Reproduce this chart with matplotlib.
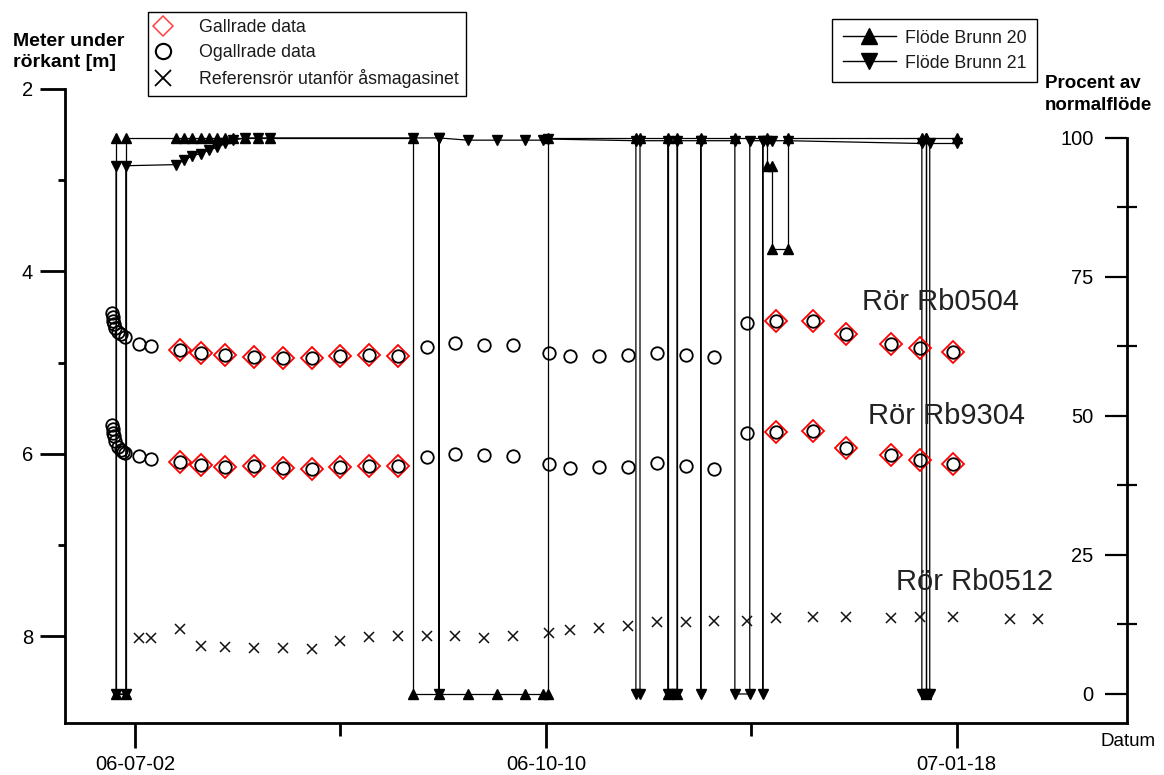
import numpy as np
import pandas as pd
import matplotlib
matplotlib.use('Agg')
import matplotlib.pyplot as plt
import matplotlib.dates as mdates
from matplotlib.lines import Line2D

plt.rcParams['font.family'] = ['Liberation Sans', 'DejaVu Sans']

# ---------------- data ----------------
# Groundwater level, pipe Rb0504 (m below pipe top), all data (circles)
rb0504_dates = ['2006-06-26 12:00', '2006-06-26 14:00', '2006-06-26 16:00', '2006-06-26 20:00',
                '2006-06-27 06:00', '2006-06-27 20:00', '2006-06-28 14:00', '2006-06-29 12:00',
                '2006-07-03', '2006-07-06',
                '2006-07-13', '2006-07-18', '2006-07-24', '2006-07-31', '2006-08-07', '2006-08-14',
                '2006-08-21', '2006-08-28', '2006-09-04',
                '2006-09-11', '2006-09-18', '2006-09-25', '2006-10-02', '2006-10-10 18:00',
                '2006-10-16', '2006-10-23', '2006-10-30', '2006-11-06', '2006-11-13', '2006-11-20',
                '2006-11-28', '2006-12-05', '2006-12-14', '2006-12-22', '2007-01-02', '2007-01-09',
                '2007-01-17']
rb0504_level = [4.46, 4.50, 4.54, 4.58, 4.62, 4.66, 4.69, 4.72, 4.80, 4.82,
                4.86, 4.90, 4.92, 4.94, 4.95, 4.95, 4.93, 4.92, 4.93,
                4.83, 4.79, 4.81, 4.81, 4.90, 4.93, 4.93, 4.92, 4.90, 4.92, 4.94,
                4.57, 4.55, 4.55, 4.69, 4.80, 4.84, 4.89]

# Groundwater level, pipe Rb9304
rb9304_dates = ['2006-06-26 12:00', '2006-06-26 14:00', '2006-06-26 16:00', '2006-06-26 20:00',
                '2006-06-27 06:00', '2006-06-27 20:00', '2006-06-28 14:00', '2006-06-29 00:00',
                '2006-06-29 12:00', '2006-07-03', '2006-07-06',
                '2006-07-13', '2006-07-18', '2006-07-24', '2006-07-31', '2006-08-07', '2006-08-14',
                '2006-08-21', '2006-08-28', '2006-09-04',
                '2006-09-11', '2006-09-18', '2006-09-25', '2006-10-02', '2006-10-10 18:00',
                '2006-10-16', '2006-10-23', '2006-10-30', '2006-11-06', '2006-11-13', '2006-11-20',
                '2006-11-28', '2006-12-05', '2006-12-14', '2006-12-22', '2007-01-02', '2007-01-09',
                '2007-01-17']
rb9304_level = [5.69, 5.73, 5.77, 5.81, 5.86, 5.93, 5.96, 5.98, 5.99, 6.03, 6.06,
                6.09, 6.12, 6.15, 6.14, 6.16, 6.17, 6.15, 6.14, 6.14,
                6.04, 6.00, 6.01, 6.02, 6.11, 6.16, 6.15, 6.15, 6.10, 6.14, 6.17,
                5.77, 5.76, 5.75, 5.94, 6.01, 6.07, 6.11]

# Filtered ("gallrade") measurements (same dates/values in both pipes)
gallrade_dates = ['2006-07-13', '2006-07-18', '2006-07-24', '2006-07-31', '2006-08-07',
                  '2006-08-14', '2006-08-21', '2006-08-28', '2006-09-04',
                  '2006-12-05', '2006-12-14', '2006-12-22', '2007-01-02', '2007-01-09', '2007-01-17']
gallrade_rb0504 = [4.86, 4.90, 4.92, 4.94, 4.95, 4.95, 4.93, 4.92, 4.93,
                   4.55, 4.55, 4.69, 4.80, 4.84, 4.89]
gallrade_rb9304 = [6.09, 6.12, 6.15, 6.14, 6.16, 6.17, 6.15, 6.14, 6.14,
                   5.76, 5.75, 5.94, 6.01, 6.07, 6.11]

# Reference pipe outside the esker aquifer, Rb0512
rb0512_dates = ['2006-07-03', '2006-07-06', '2006-07-13', '2006-07-18', '2006-07-24', '2006-07-31',
                '2006-08-07', '2006-08-14', '2006-08-21', '2006-08-28', '2006-09-04', '2006-09-11',
                '2006-09-18', '2006-09-25', '2006-10-02', '2006-10-10 18:00', '2006-10-16',
                '2006-10-23', '2006-10-30', '2006-11-06', '2006-11-13', '2006-11-20', '2006-11-28',
                '2006-12-05', '2006-12-14', '2006-12-22', '2007-01-02', '2007-01-09', '2007-01-17',
                '2007-01-31', '2007-02-06 18:00']
rb0512_level = [8.02, 8.02, 7.92, 8.11, 8.12, 8.13, 8.13, 8.14, 8.06, 8.01, 8.00, 8.00,
                8.00, 8.02, 8.00, 7.97, 7.93, 7.91, 7.89, 7.85, 7.85, 7.83, 7.83,
                7.80, 7.79, 7.79, 7.80, 7.79, 7.79, 7.81, 7.81]

# Flow, well 20 (% of normal flow)
brunn20_dates = ['2006-06-27 10:00', '2006-06-27 10:00', '2006-06-29 19:00', '2006-06-29 19:00',
                 '2006-07-12', '2006-07-14', '2006-07-16', '2006-07-18', '2006-07-20', '2006-07-22',
                 '2006-07-24', '2006-07-26', '2006-07-28 20:00', '2006-07-31 22:00', '2006-08-03 20:00',
                 '2006-09-07 16:00', '2006-09-07 16:00', '2006-09-14', '2006-09-21', '2006-09-28',
                 '2006-10-05', '2006-10-09 08:00', '2006-10-10 12:00', '2006-10-10 12:00',
                 '2006-10-31 22:00', '2006-11-01 22:00', '2006-11-08 16:00', '2006-11-08 16:00',
                 '2006-11-10 22:00', '2006-11-10 22:00', '2006-11-16 17:00', '2006-11-25',
                 '2006-12-02 19:00', '2006-12-02 19:00', '2006-12-04', '2006-12-04',
                 '2006-12-07 21:00', '2006-12-07 21:00', '2007-01-09 12:00',
                 '2007-01-10 12:00', '2007-01-10 12:00', '2007-01-10 12:00', '2007-01-18']
brunn20_flow = [100, 0, 0, 100,
                100, 100, 100, 100, 100, 100,
                100, 100, 100, 100, 100,
                100, 0, 0, 0, 0,
                0, 0, 0, 100,
                100, 100, 100, 0,
                0, 100, 100, 100,
                100, 95, 95, 80,
                80, 100, 100,
                100, 0, 100, 100]

# Flow, well 21 (% of normal flow)
brunn21_dates = ['2006-06-27 10:00', '2006-06-27 10:00', '2006-06-29 19:00', '2006-06-29 19:00',
                 '2006-07-12', '2006-07-14', '2006-07-16', '2006-07-18', '2006-07-20', '2006-07-22',
                 '2006-07-24', '2006-07-26', '2006-07-28 20:00', '2006-07-31 22:00', '2006-08-03 20:00',
                 '2006-09-07 16:00', '2006-09-14', '2006-09-14', '2006-09-14', '2006-09-21',
                 '2006-09-28', '2006-10-05', '2006-10-09 08:00', '2006-10-10 12:00',
                 '2006-10-31 22:00', '2006-10-31 22:00', '2006-11-01 22:00', '2006-11-01 22:00',
                 '2006-11-08 16:00', '2006-11-08 16:00', '2006-11-09 16:00', '2006-11-10 22:00',
                 '2006-11-10 22:00', '2006-11-16 17:00', '2006-11-16 17:00', '2006-11-16 17:00',
                 '2006-11-25', '2006-11-25', '2006-11-28 15:00', '2006-11-28 15:00',
                 '2006-12-01 19:00', '2006-12-01 19:00', '2006-12-01 19:00', '2006-12-02 19:00',
                 '2006-12-04', '2006-12-07 21:00', '2007-01-09 12:00', '2007-01-09 12:00',
                 '2007-01-10 12:00', '2007-01-11 10:00', '2007-01-11 10:00', '2007-01-18']
brunn21_flow = [95, 0, 0, 95,
                95.2, 96.0, 96.8, 97.2, 97.8, 98.3,
                99.0, 99.6, 100, 100, 100,
                100, 100, 0, 100, 99.6,
                99.6, 99.6, 99.6, 99.8,
                99.5, 0, 0, 99.5,
                99.5, 0, 0, 0,
                99.5, 99.5, 0, 99.5,
                99.5, 0, 0, 99.5,
                99.5, 0, 99.5, 99.5,
                99.5, 99.5, 99, 0,
                0, 0, 99, 99]

x_major = ['2006-07-02', '2006-10-10', '2007-01-18']
x_minor = ['2006-08-21', '2006-11-29']
y_left_ticks = [2, 4, 6, 8]
y_left_minor = [3, 5, 7]
y_right_ticks = [0, 25, 50, 75, 100]
y_right_minor = [12.5, 37.5, 62.5, 87.5]


def dt(lst):
    return pd.to_datetime(lst, format='ISO8601').to_numpy()


# ---------------- figure ----------------
W, H = 1164, 775
fig = plt.figure(figsize=(W / 100, H / 100), dpi=100)
L, R, T, B = 65, 1127, 89, 723
ax = fig.add_axes([L / W, 1 - B / H, (R - L) / W, (B - T) / H])
ax2 = ax.twinx()

ax.set_xlim(dt(['2006-06-15'])[0], dt(['2007-02-28 10:00'])[0])
ax.set_ylim(8.954, 2.0)
ax2.set_ylim(-5.22, 108.8)

# flows (right axis)
ax2.plot(dt(brunn20_dates), brunn20_flow, color='black', lw=0.9, marker='^', ms=7.5,
         mfc='black', mec='black', zorder=3)
ax2.plot(dt(brunn21_dates), brunn21_flow, color='black', lw=0.9, marker='v', ms=7.5,
         mfc='black', mec='black', zorder=4)

ax.set_zorder(ax2.get_zorder() + 1)
ax.patch.set_visible(False)

ax.plot(dt(gallrade_dates), gallrade_rb0504, ls='none', marker='D', ms=11, mfc='none',
        mec='#ff0000', mew=1.3, zorder=3)
ax.plot(dt(gallrade_dates), gallrade_rb9304, ls='none', marker='D', ms=11, mfc='none',
        mec='#ff0000', mew=1.3, zorder=3)
ax.plot(dt(rb0504_dates), rb0504_level, ls='none', marker='o', ms=9, mfc='none',
        mec='black', mew=1.3, zorder=4)
ax.plot(dt(rb9304_dates), rb9304_level, ls='none', marker='o', ms=9, mfc='none',
        mec='black', mew=1.3, zorder=4)
ax.plot(dt(rb0512_dates), rb0512_level, ls='none', marker='x', ms=7.5, mec='#111111',
        mew=1.1, zorder=4)

# annotations
ax.text(dt(['2006-12-25 22:00'])[0], 4.34, 'Rör Rb0504', fontsize=21, color='#222222',
        ha='left', va='center')
ax.text(dt(['2006-12-27 07:00'])[0], 5.59, 'Rör Rb9304', fontsize=21, color='#222222',
        ha='left', va='center')
ax.text(dt(['2007-01-03 05:00'])[0], 7.41, 'Rör Rb0512', fontsize=21, color='#222222',
        ha='left', va='center')

# spines
for s in ['top', 'right']:
    ax.spines[s].set_visible(False)
for s in ['left', 'bottom']:
    ax.spines[s].set_linewidth(2.0)
for s in ['top', 'bottom', 'right']:
    ax2.spines[s].set_visible(False)
ax2.spines['left'].set_visible(True)
ax2.spines['left'].set_position(('axes', 1.0))
ax2.spines['left'].set_linewidth(2.0)
ax2.spines['left'].set_bounds(-5.22, 100)
ax2.yaxis.set_ticks_position('left')

# x ticks
ax.set_xticks(dt(x_major))
ax.set_xticks(dt(x_minor), minor=True)
ax.xaxis.set_major_formatter(mdates.DateFormatter('%y-%m-%d'))
ax.tick_params(axis='x', which='major', direction='out', length=18, width=2,
               labelsize=14.5, pad=5)
ax.tick_params(axis='x', which='minor', direction='out', length=9, width=2)

# left y ticks
ax.set_yticks(y_left_ticks)
ax.set_yticks(y_left_minor, minor=True)
ax.set_yticklabels([str(v) for v in y_left_ticks])
ax.tick_params(axis='y', which='major', direction='out', length=18, width=2,
               labelsize=14.5, pad=5)
ax.tick_params(axis='y', which='minor', direction='out', length=5, width=2)

# right y ticks
ax2.set_yticks(y_right_ticks)
ax2.set_yticks(y_right_minor, minor=True)
ax2.set_yticklabels([str(v) for v in y_right_ticks])
ax2.tick_params(axis='y', which='major', direction='out', length=16, width=1.6,
                labelsize=14.5, pad=8, left=True, right=False, labelleft=True, labelright=False)
ax2.tick_params(axis='y', which='minor', direction='inout', length=15, width=1.6,
                left=True, right=False)

# axis titles
fig.text(13 / W, 1 - 33 / H, 'Meter under\nrörkant [m]', fontsize=14, fontweight='bold',
         ha='left', va='top', linespacing=1.3)
fig.text(1045 / W, 1 - 75 / H, 'Procent av\nnormalflöde', fontsize=13.5, fontweight='bold',
         ha='left', va='top', linespacing=1.35)
fig.text(1101 / W, 1 - 741 / H, 'Datum', fontsize=13.5, ha='left', va='center')

# legends
h1 = [Line2D([], [], ls='none', marker='D', ms=10, mfc='none', mec='#ff4040', mew=1.1),
      Line2D([], [], ls='none', marker='o', ms=11, mfc='none', mec='black', mew=1.5),
      Line2D([], [], ls='none', marker='x', ms=11, mec='black', mew=1.3)]
lab1 = ['Gallrade data', 'Ogallrade data', 'Referensrör utanför åsmagasinet']
leg1 = fig.legend(h1, lab1, loc='upper left', bbox_to_anchor=(148 / W, 1 - 12 / H),
                  borderaxespad=0, fontsize=12.8, frameon=True, fancybox=False,
                  edgecolor='black', framealpha=1, handlelength=0.8, handletextpad=1.65,
                  labelspacing=0.45, borderpad=0.42)
leg1.get_frame().set_linewidth(1.0)
for t in leg1.get_texts():
    t.set_color('#1a1a1a')

h2 = [Line2D([], [], color='black', lw=1, marker='^', ms=11, mfc='black'),
      Line2D([], [], color='black', lw=1, marker='v', ms=11, mfc='black')]
lab2 = ['Flöde Brunn 20', 'Flöde Brunn 21']
leg2 = fig.legend(h2, lab2, loc='upper left', bbox_to_anchor=(832 / W, 1 - 19 / H),
                  borderaxespad=0, fontsize=12.8, frameon=True, fancybox=False,
                  edgecolor='black', framealpha=1, handlelength=3.0, handletextpad=0.5,
                  labelspacing=0.45, borderpad=0.6)
leg2.get_frame().set_linewidth(1.0)
for t in leg2.get_texts():
    t.set_color('#1a1a1a')

fig.savefig('out.png', dpi=100)
